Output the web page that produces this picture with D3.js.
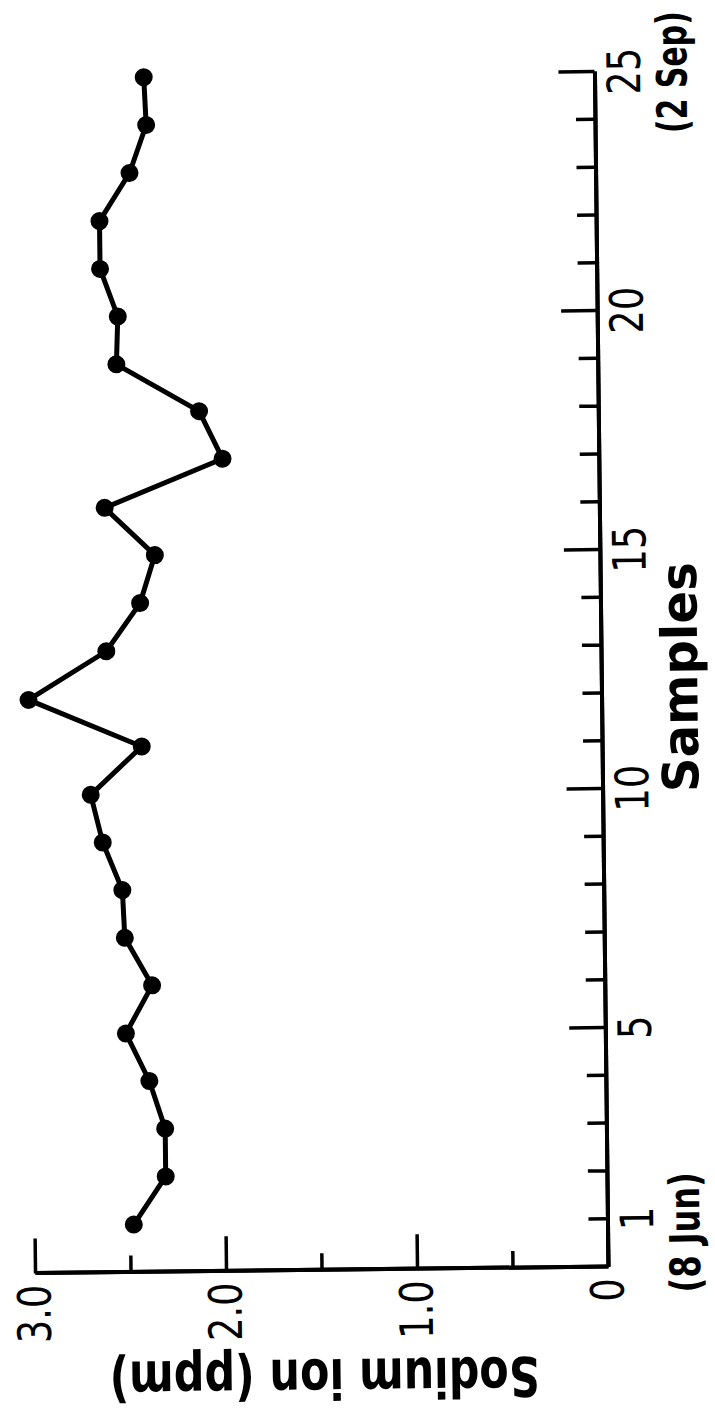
<!DOCTYPE html>
<html>
<head>
<meta charset="utf-8">
<script src="https://cdn.jsdelivr.net/npm/d3@7"></script>
<style>
body { margin: 0; background: #fff; }
text { font-family: "DejaVu Sans", sans-serif; font-weight: bold; fill: #000; }
.tick text { font-weight: normal; }
</style>
</head>
<body>
<div id="chart"></div>
<script>
// Data
var samples = [1, 2, 3, 4, 5, 6, 7, 8, 9, 10, 11, 12, 13, 14, 15, 16, 17, 18, 19, 20, 21, 22, 23, 24, 25];
var sodium = [2.48, 2.31, 2.31, 2.39, 2.51, 2.37, 2.51, 2.52, 2.62, 2.68, 2.41, 3.00, 2.59,
              2.41, 2.33, 2.59, 1.97, 2.09, 2.52, 2.51, 2.60, 2.60, 2.44, 2.35, 2.36];

var sampleMajorTicks = [5, 10, 15, 20, 25];
var sampleMinorTicks = [1, 2, 3, 4, 6, 7, 8, 9, 11, 12, 13, 14, 16, 17, 18, 19, 21, 22, 23, 24];
var sampleLabels = [1, 5, 10, 15, 20, 25];
var dateNoteSamples = [1, 25];
var dateNotes = ["(8 Jun)", "(2 Sep)"];

var valueMajorTicks = [0, 1, 2, 3];
var valueMinorTicks = [0.5, 1.5, 2.5];

var svgWidth = 715;
var svgHeight = 1415;

// the whole figure is turned on its side (plus a small scan tilt)
var corner = { x: 608, y: 1267 };
var sampleLen = 1195;
var valueLen = 573;

var svg = d3.select("#chart")
    .append("svg")
    .attr("width", svgWidth)
    .attr("height", svgHeight);

svg.append("rect")
    .attr("width", svgWidth)
    .attr("height", svgHeight)
    .attr("fill", "#fff");

var chartGroup = svg.append("g")
    .attr("transform", `translate(${corner.x}, ${corner.y}) rotate(-90.65)`);

var xScale = d3.scaleLinear().domain([0, 25]).range([0, sampleLen]);
var yScale = d3.scaleLinear().domain([0, 3]).range([0, -valueLen]);

function styleAxis(g) {
    g.attr("font-size", 46);
    g.select(".domain").attr("stroke", "#000").attr("stroke-width", 4);
    g.selectAll(".tick line").attr("stroke", "#000").attr("stroke-width", 3.5);
    g.selectAll(".tick text").attr("transform", "scale(0.8,1)");
}

// Samples axis (minor, then major ticks)
chartGroup.append("g")
    .call(d3.axisBottom(xScale)
        .tickValues(sampleMinorTicks)
        .tickSize(-19)
        .tickSizeOuter(0)
        .tickPadding(13)
        .tickFormat(d => sampleLabels.indexOf(d) >= 0 ? d : ""))
    .call(styleAxis);

chartGroup.append("g")
    .call(d3.axisBottom(xScale)
        .tickValues(sampleMajorTicks)
        .tickSize(-36)
        .tickSizeOuter(0)
        .tickPadding(13)
        .tickFormat(d => sampleLabels.indexOf(d) >= 0 ? d : ""))
    .call(styleAxis);

// Sodium axis
chartGroup.append("g")
    .call(d3.axisLeft(yScale)
        .tickValues(valueMinorTicks)
        .tickSize(-17)
        .tickSizeOuter(0)
        .tickFormat(""))
    .call(styleAxis);

chartGroup.append("g")
    .call(d3.axisLeft(yScale)
        .tickValues(valueMajorTicks)
        .tickSize(-35)
        .tickSizeOuter(0)
        .tickPadding(14)
        .tickFormat(d => d === 0 ? "0" : d3.format(".1f")(d)))
    .call(styleAxis);

// date notes under first and last sample
chartGroup.selectAll(".dateNote")
    .data(dateNotes)
    .enter()
    .append("text")
    .attr("class", "dateNote")
    .attr("x", (d, i) => xScale(dateNoteSamples[i]) + (i === 0 ? -14 : -1))
    .attr("y", 92)
    .attr("text-anchor", "middle")
    .attr("font-size", 42)
    .attr("textLength", (d, i) => i === 0 ? 120 : 122)
    .attr("lengthAdjust", "spacingAndGlyphs")
    .text(d => d);

// axis titles
chartGroup.append("text")
    .attr("x", xScale(12.32))
    .attr("y", 96)
    .attr("text-anchor", "middle")
    .attr("font-size", 50)
    .attr("textLength", 230)
    .attr("lengthAdjust", "spacingAndGlyphs")
    .text("Samples");

chartGroup.append("text")
    .attr("transform", `translate(-89, ${yScale(1.49)}) rotate(-90)`)
    .attr("text-anchor", "middle")
    .attr("font-size", 55)
    .attr("textLength", 430)
    .attr("lengthAdjust", "spacingAndGlyphs")
    .text("Sodium ion (ppm)");

// data line and points
var points = samples.map((s, i) => ({ s: s, v: sodium[i] }));

var line = d3.line()
    .x(d => xScale(d.s))
    .y(d => yScale(d.v));

chartGroup.append("path")
    .datum(points)
    .attr("d", line)
    .attr("fill", "none")
    .attr("stroke", "#000")
    .attr("stroke-width", 5)
    .attr("stroke-linejoin", "round");

chartGroup.selectAll("circle")
    .data(points)
    .enter()
    .append("circle")
    .attr("cx", d => xScale(d.s))
    .attr("cy", d => yScale(d.v))
    .attr("r", 9)
    .attr("fill", "#000");
</script>
</body>
</html>
